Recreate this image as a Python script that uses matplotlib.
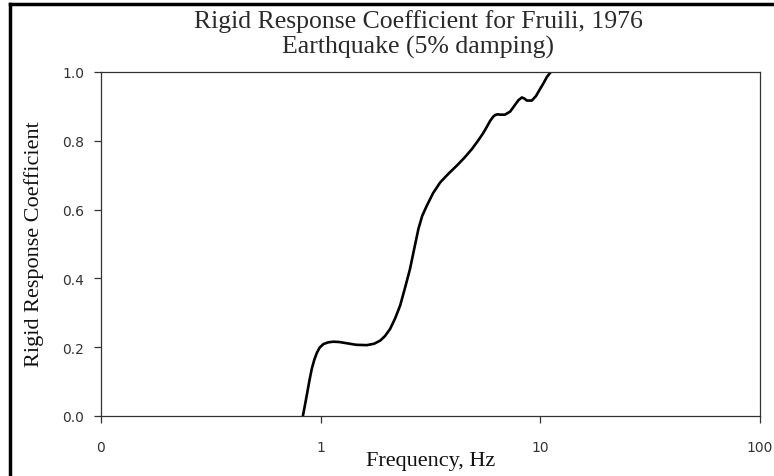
import matplotlib
matplotlib.use("Agg")
import matplotlib.pyplot as plt
from matplotlib.lines import Line2D

# Data ------------------------------------------------------------------------

freq_hz = [0.83, 0.85, 0.87, 0.89, 0.911, 0.935, 0.96, 0.99, 1.029, 1.08,
           1.142, 1.22, 1.30, 1.45, 1.622, 1.75, 1.865, 1.96, 2.07, 2.18,
           2.30, 2.42, 2.55, 2.67, 2.786, 2.90, 3.04, 3.25, 3.50, 3.80,
           4.17, 4.50, 4.88, 5.20, 5.49, 5.70, 5.91, 6.10, 6.23, 6.40,
           6.56, 6.90, 7.29, 7.68, 7.95, 8.24, 8.45, 8.68, 9.15, 9.55,
           9.98, 10.35, 10.7, 11.16]
rigid_coef = [0.0, 0.035, 0.07, 0.105, 0.137, 0.163, 0.183, 0.199, 0.209, 0.214,
              0.216, 0.215, 0.212, 0.207, 0.206, 0.210, 0.219, 0.232, 0.253, 0.283,
              0.321, 0.372, 0.427, 0.488, 0.544, 0.582, 0.611, 0.648, 0.679, 0.703,
              0.728, 0.750, 0.776, 0.800, 0.822, 0.840, 0.858, 0.870, 0.875, 0.877,
              0.876, 0.876, 0.885, 0.905, 0.918, 0.926, 0.923, 0.917, 0.917, 0.930,
              0.951, 0.968, 0.985, 1.0]

x_ticks = [0.1, 1, 10, 100]
x_tick_labels = ["0", "1", "10", "100"]
y_ticks = [0.0, 0.2, 0.4, 0.6, 0.8, 1.0]
y_tick_labels = ["0.0", "0.2", "0.4", "0.6", "0.8", "1.0"]

# Figure ----------------------------------------------------------------------

fig = plt.figure(figsize=(7.74, 4.77), dpi=100)
W, H = 774, 477
ax = fig.add_axes([101 / W, 1 - 417 / H, (760 - 101) / W, (417 - 73) / H])

ax.plot(freq_hz, rigid_coef, color="black", linewidth=1.9,
        solid_capstyle="round", solid_joinstyle="round")

ax.set_xscale("log")
ax.set_xlim(0.1, 100)
ax.set_ylim(0.0, 1.0)
ax.set_xticks(x_ticks)
ax.set_xticklabels(x_tick_labels)
ax.set_yticks(y_ticks)
ax.set_yticklabels(y_tick_labels)
ax.minorticks_off()

ax.tick_params(axis="both", direction="out", length=5, width=0.9, color="#333333",
               labelsize=10, labelcolor="#333333")
ax.tick_params(axis="x", pad=12)
ax.tick_params(axis="y", pad=7)
for lab in ax.get_xticklabels() + ax.get_yticklabels():
    lab.set_family("DejaVu Sans")

for sp in ax.spines.values():
    sp.set_color("#333333")
    sp.set_linewidth(0.9)

serif = ["Liberation Serif", "DejaVu Serif"]
title_x = 0.5 * (178 + 659) / W
fig.text(title_x, 1 - 28 / H, "Rigid Response Coefficient for Fruili, 1976",
         ha="center", va="baseline", fontsize=18.5, family=serif, color="#2a2a2a")
fig.text(title_x, 1 - 54 / H, "Earthquake (5% damping)",
         ha="center", va="baseline", fontsize=18.5, family=serif, color="#2a2a2a")

fig.text(431 / W, 1 - 466 / H, "Frequency, Hz", ha="center", va="baseline",
         fontsize=16, family=serif, color="#111111")
fig.text(34 / W, 1 - 244 / H, "Rigid Response Coefficient", ha="center", va="center",
         rotation=90, fontsize=16, family=serif, color="#111111")

# outer chart border (only the top and left edges fall inside the crop)
fig.add_artist(Line2D([10 / W, 10 / W], [0, 1 - 5 / H], transform=fig.transFigure,
                      color="black", linewidth=2.5))
fig.add_artist(Line2D([10 / W, 1], [1 - 5 / H, 1 - 5 / H], transform=fig.transFigure,
                      color="black", linewidth=2.5))

fig.savefig("out.png", dpi=100)
